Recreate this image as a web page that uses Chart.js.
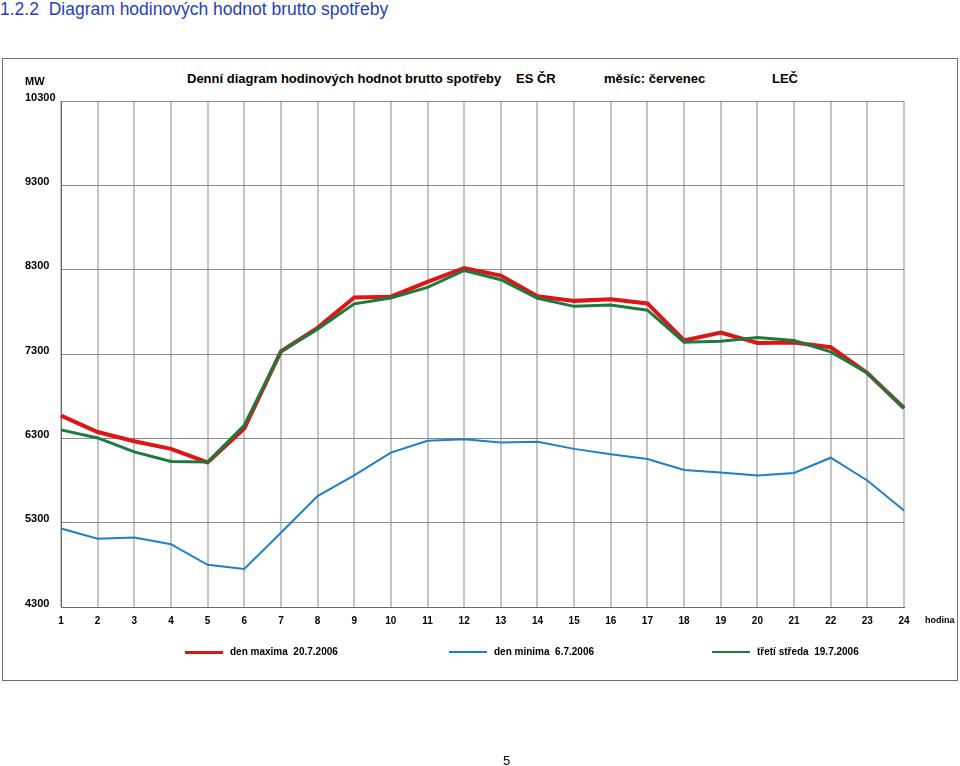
<!DOCTYPE html>
<html lang="cs">
<head>
<meta charset="utf-8">
<title>Diagram hodinových hodnot brutto spotřeby</title>
<script src="https://cdn.jsdelivr.net/npm/chart.js@4/dist/chart.umd.min.js"></script>
<style>
  body { margin: 0; background: #fff; font-family: Arial, "Liberation Sans", sans-serif; }
  #page { position: relative; width: 960px; height: 766px; overflow: hidden; }
  #chart { position: absolute; left: 0; top: 0; }
  .abs { position: absolute; white-space: pre; color: #000; line-height: 1; }
  #pageTitle { left: 0; top: 1px; font-size: 17.5px; color: #1f3fc0; }
  #frame { position: absolute; left: 2px; top: 58px; width: 954px; height: 621px; border: 1px solid #707070; }
  .head { top: 72px; font-size: 13px; font-weight: bold; }
  .legItem { position: absolute; top: 646px; font-size: 10px; font-weight: bold; white-space: pre; }
  .legItem i { position: absolute; left: 0; width: 38px; top: 5px; }
  .legItem span { position: absolute; left: 45px; top: 0; }
  #pageNo { left: 503px; top: 754px; font-size: 13px; }
</style>
</head>
<body>
<div id="page">
  <div id="pageTitle" class="abs">1.2.2  Diagram hodinových hodnot brutto spotřeby</div>
  <div id="frame"></div>
  <div class="abs head" style="left:187px">Denní diagram hodinových hodnot brutto spotřeby</div>
  <div class="abs head" style="left:516px">ES ČR</div>
  <div class="abs head" style="left:604px">měsíc: červenec</div>
  <div class="abs head" style="left:772px">LEČ</div>
  <canvas id="chart" width="960" height="766"></canvas>
  <div id="legend"></div>
  <div id="pageNo" class="abs">5</div>
</div>
<script>
const hours = ['1','2','3','4','5','6','7','8','9','10','11','12','13','14','15','16','17','18','19','20','21','22','23','24'];
const yTicks = [4300, 5300, 6300, 7300, 8300, 9300, 10300];

// den maxima 20.7.2006
const maxDay = [6570, 6375, 6265, 6175, 6015, 6415, 7330, 7610, 7970, 7980, 8155, 8320,
                8230, 7985, 7930, 7950, 7900, 7460, 7555, 7430, 7435, 7380, 7075, 6660];
// den minima 6.7.2006
const minDay = [5230, 5110, 5125, 5045, 4800, 4750, 5180, 5615, 5860, 6130, 6270, 6290,
                6250, 6260, 6175, 6110, 6055, 5925, 5895, 5860, 5890, 6070, 5800, 5445];
// třetí středa 19.7.2006
const wedDay = [6400, 6305, 6140, 6025, 6020, 6455, 7330, 7595, 7895, 7965, 8090, 8290,
                8180, 7960, 7865, 7880, 7820, 7440, 7450, 7495, 7460, 7325, 7075, 6655];

const series = [
  { label: 'den maxima  20.7.2006', data: maxDay, color: '#e01414', width: 4, order: 1, left: 185 },
  { label: 'den minima  6.7.2006', data: minDay, color: '#1f7fc8', width: 2, order: 2, left: 449 },
  { label: 'třetí středa  19.7.2006', data: wedDay, color: '#1b7a3e', width: 3, order: 0, left: 712 },
];

const FONT = 'Arial, "Liberation Sans", sans-serif';

// legend as html, spaced like the original
document.getElementById('legend').innerHTML = series.map(s =>
  `<div class="legItem" style="left:${s.left}px"><i style="height:${Math.max(s.width - 1, 2)}px;background:${s.color}"></i><span>${s.label}</span></div>`
).join('');

// y labels are left aligned and sit a little above their gridline, plus "MW" and "hodina"
const axisText = {
  id: 'axisText',
  afterDraw(chart) {
    const { ctx, scales: { y, x } } = chart;
    ctx.save();
    ctx.fillStyle = '#000';
    ctx.font = 'bold 11px ' + FONT;
    ctx.textAlign = 'left';
    ctx.textBaseline = 'middle';
    yTicks.forEach(v => ctx.fillText(String(v), 25, y.getPixelForValue(v) - 3.5));
    ctx.fillText('MW', 25, y.getPixelForValue(10300) - 19);
    ctx.font = 'bold 9px ' + FONT;
    ctx.fillText('hodina', x.right + 21, x.top + 14);
    ctx.restore();
  }
};

new Chart(document.getElementById('chart'), {
  type: 'line',
  data: {
    labels: hours,
    datasets: series.map(s => ({
      label: s.label,
      data: s.data,
      borderColor: s.color,
      backgroundColor: s.color,
      borderWidth: s.width,
      pointRadius: 0,
      tension: 0,
      order: s.order,
    }))
  },
  options: {
    responsive: false,
    animation: false,
    layout: { padding: { left: 61, right: 56, top: 101, bottom: 131 } },
    plugins: { legend: { display: false }, tooltip: { enabled: false } },
    scales: {
      x: {
        type: 'category',
        offset: false,
        grid: { color: '#c4c4c4', lineWidth: 2, drawTicks: false },
        border: { color: '#6a6a6a', width: 1 },
        ticks: { color: '#000', font: { family: FONT, size: 10, weight: 'bold' }, padding: 8, maxRotation: 0, autoSkip: false }
      },
      y: {
        min: 4300,
        max: 10300,
        afterBuildTicks: axis => { axis.ticks = yTicks.map(v => ({ value: v })); },
        grid: { color: '#8a8a8a', lineWidth: 1, drawTicks: false },
        border: { color: '#6a6a6a', width: 1 },
        ticks: { display: false }
      }
    }
  },
  plugins: [axisText]
});
</script>
</body>
</html>
